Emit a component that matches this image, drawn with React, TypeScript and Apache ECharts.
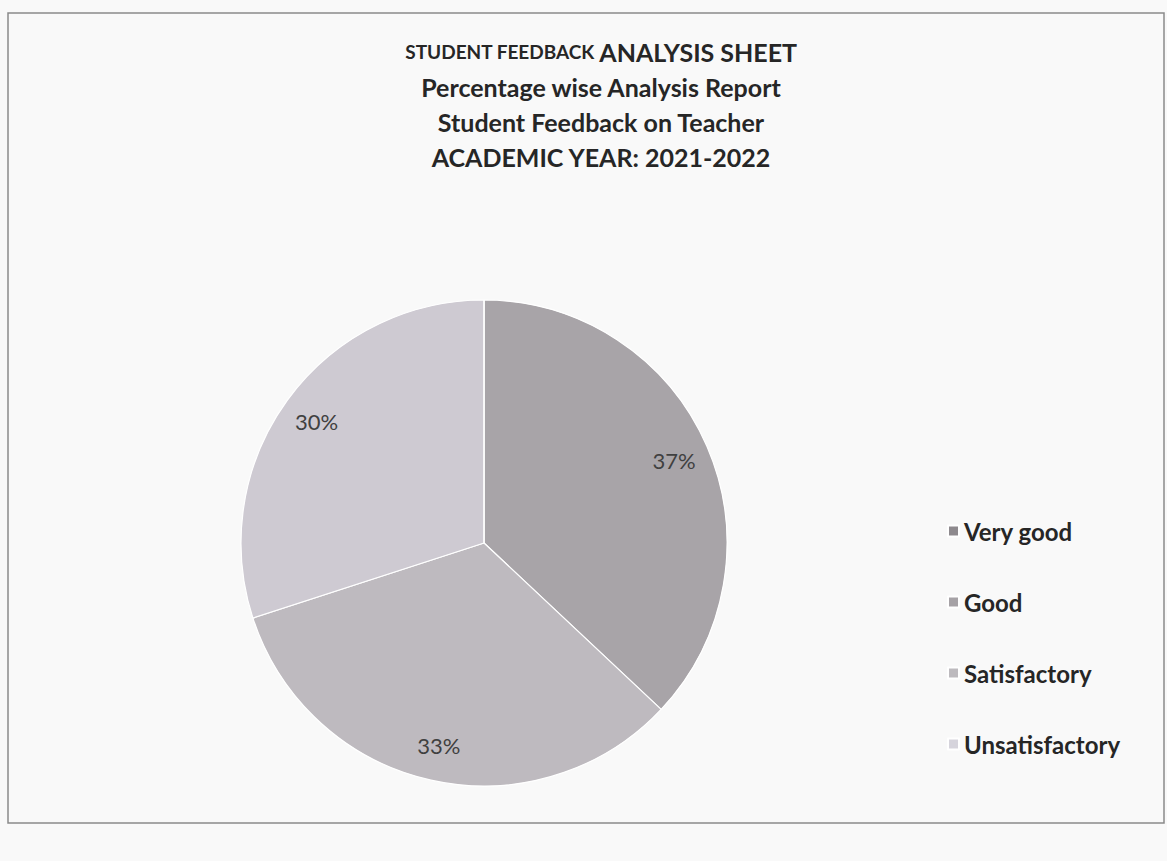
import React, { useEffect, useRef } from "react";
import * as echarts from "echarts";

const categories = ["Very good", "Good", "Satisfactory", "Unsatisfactory"];
const percentages = [37, 33, 30, 0];
const sliceColors = ["#a8a4a8", "#bebabf", "#cecad2", "#dcdae2"];
const legendColors = ["#8e8a8e", "#a6a2a6", "#bdbabe", "#d6d4dc"];
const titleLines = [
  "Percentage wise Analysis Report",
  "Student Feedback on Teacher",
  "ACADEMIC YEAR: 2021-2022",
];

export default function App() {
  const ref = useRef<HTMLDivElement>(null);
  useEffect(() => {
    document.body.style.margin = "0";
    const chart = echarts.init(ref.current!, null, { renderer: "svg" });
    const data = categories.map((name, i) => ({
      name,
      value: percentages[i],
      itemStyle: { color: sliceColors[i] },
    }));
    chart.setOption({
      animation: false,
      backgroundColor: "#f9f9f9",
      color: legendColors,
      title: {
        text:
          "{s|STUDENT FEEDBACK }{b|ANALYSIS SHEET}\n" +
          titleLines.map((t) => "{b|" + t + "}").join("\n"),
        left: 596,
        top: 29,
        textAlign: "center",
        textStyle: {
          fontFamily: "Lato",
          fontWeight: "bold",
          fontSize: 25,
          color: "#262626",
          lineHeight: 35,
          rich: {
            s: { fontFamily: "Lato", fontWeight: "bold", fontSize: 19, color: "#262626", lineHeight: 35 },
            b: { fontFamily: "Lato", fontWeight: "bold", fontSize: 25, color: "#262626", lineHeight: 35 },
          },
        },
      },
      legend: {
        orient: "vertical",
        left: 942,
        top: 514,
        itemGap: 47,
        itemWidth: 11,
        itemHeight: 11,
        icon: "rect",
        data: categories.map((name, i) => ({ name, itemStyle: { color: legendColors[i] } })),
        textStyle: { fontFamily: "Lato", fontWeight: "bold", fontSize: 24, color: "#262626" },
      },
      graphic: [
        {
          type: "rect",
          shape: { x: 8, y: 13, width: 1156, height: 810 },
          style: { fill: "none", stroke: "#8a8a8a", lineWidth: 1.5 },
          silent: true,
        },
      ],
      series: [
        {
          type: "pie",
          center: [484, 543],
          radius: [0, 243],
          startAngle: 90,
          clockwise: true,
          data,
          label: { show: false },
          labelLine: { show: false },
          itemStyle: { borderColor: "#ffffff", borderWidth: 1.2 },
          emphasis: { disabled: true },
          silent: true,
        },
        {
          type: "pie",
          center: [484, 543],
          radius: [165, 243],
          startAngle: 90,
          clockwise: true,
          data: categories.map((name, i) => ({ name, value: percentages[i] })),
          itemStyle: { color: "rgba(0,0,0,0)", borderWidth: 0 },
          label: {
            show: true,
            position: "inside",
            fontFamily: "Lato",
            fontSize: 22,
            color: "#404040",
            formatter: (p: any) => (p.value > 0 ? p.value + "%" : ""),
          },
          labelLine: { show: false },
          emphasis: { disabled: true },
          silent: true,
          legendHoverLink: false,
        },
      ],
    });
    return () => chart.dispose();
  }, []);
  return <div ref={ref} style={{ width: 1167, height: 861 }} />;
}
